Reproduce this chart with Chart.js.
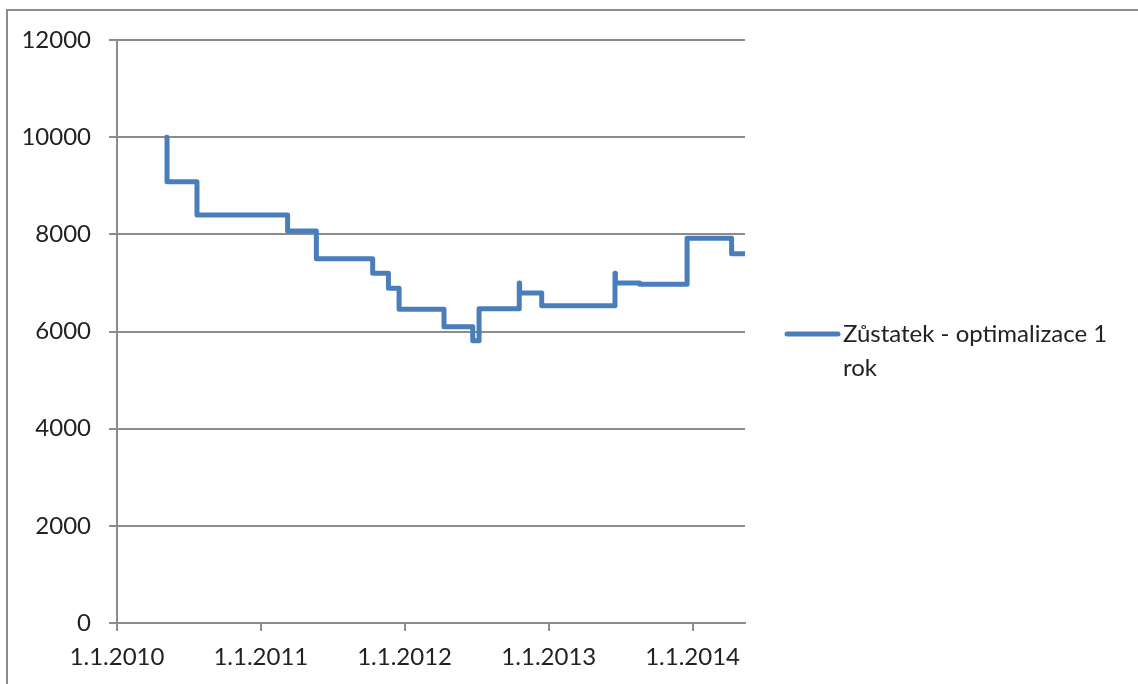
<!DOCTYPE html>
<html>
<head>
<meta charset="utf-8">
<script src="https://cdn.jsdelivr.net/npm/chart.js@4.4.1/dist/chart.umd.min.js"></script>
<style>
  html, body { margin: 0; padding: 0; background: #fff; }
  #wrap { position: relative; width: 1138px; height: 684px; }
  #frame { position: absolute; left: 6px; top: 9px; right: 0; bottom: 0;
           border-top: 2px solid #8c8c8c; border-left: 2px solid #8c8c8c; }
  canvas { position: absolute; left: 0; top: 0; }
</style>
</head>
<body>
<div id="wrap">
  <div id="frame"></div>
  <canvas id="chart" width="1138" height="684"></canvas>
</div>
<script>
// change dates and the balance from that day on
const changeDates = ['2010-05-07', '2010-05-08', '2010-07-23', '2011-03-10', '2011-05-22',
  '2011-10-12', '2011-11-21', '2011-12-18', '2012-04-10', '2012-06-22', '2012-07-08',
  '2012-10-18', '2012-10-19', '2012-12-14', '2013-06-18', '2013-06-19', '2013-08-20',
  '2013-12-18', '2014-04-10', '2014-05-13'];
const balance = [10000, 9080, 8400, 8070, 7500,
  7200, 6890, 6460, 6100, 5810, 6470,
  7000, 6790, 6530, 7200, 7000, 6970,
  7920, 7600, 7600];
const yearTicks = [2010, 2011, 2012, 2013, 2014];
const axisEnd = '2014-05-14';
const seriesLabel = ['Zůstatek - optimalizace 1', 'rok'];

const DAY = 86400000;
const origin = Date.UTC(2010, 0, 1);
function dayOf(s) {
  const p = s.split('-');
  return (Date.UTC(+p[0], +p[1] - 1, +p[2]) - origin) / DAY;
}
function dayOfYear(y) {
  return (Date.UTC(y, 0, 1) - origin) / DAY;
}

const points = changeDates.map((d, i) => ({ x: dayOf(d), y: balance[i] }));
const blue = '#4a7ebb';
const gray = '#8c8c8c';
const font = { family: 'Lato', size: 24 };

const legendPlugin = {
  id: 'sideLegend',
  afterDraw(chart) {
    const ctx = chart.ctx;
    ctx.save();
    ctx.strokeStyle = blue;
    ctx.lineWidth = 5;
    ctx.lineCap = 'round';
    ctx.beginPath();
    ctx.moveTo(787, 334);
    ctx.lineTo(838, 334);
    ctx.stroke();
    ctx.fillStyle = '#222';
    ctx.font = '24px Lato';
    ctx.textBaseline = 'middle';
    ctx.fillText(seriesLabel[0], 843, 334);
    ctx.fillText(seriesLabel[1], 843, 368);
    ctx.restore();
  }
};

new Chart(document.getElementById('chart'), {
  type: 'line',
  data: {
    datasets: [{
      data: points,
      stepped: 'before',
      borderColor: blue,
      borderWidth: 5,
      borderCapStyle: 'round',
      borderJoinStyle: 'round',
      pointRadius: 0,
      fill: false
    }]
  },
  options: {
    responsive: false,
    animation: false,
    layout: { padding: { left: 0, right: 393, top: 40, bottom: 0 } },
    plugins: { legend: { display: false }, tooltip: { enabled: false } },
    scales: {
      x: {
        type: 'linear',
        min: 0,
        max: dayOf(axisEnd),
        afterBuildTicks(scale) {
          scale.ticks = yearTicks.map(y => ({ value: dayOfYear(y) }));
        },
        afterFit(scale) { scale.height = 61; },
        ticks: {
          autoSkip: false,
          maxRotation: 0,
          color: '#222',
          font: font,
          padding: 12,
          callback: (v) => '1.1.' + yearTicks[yearTicks.findIndex(y => dayOfYear(y) === v)]
        },
        grid: { drawOnChartArea: false, color: gray, lineWidth: 2, tickLength: 8 },
        border: { color: gray, width: 2 }
      },
      y: {
        min: 0,
        max: 12000,
        afterFit(scale) { scale.width = 117; },
        ticks: { stepSize: 2000, color: '#222', font: font, padding: 18, callback: (v) => String(v) },
        grid: { color: gray, lineWidth: 2, tickLength: 8 },
        border: { color: gray, width: 2 }
      }
    }
  },
  plugins: [legendPlugin]
});
</script>
</body>
</html>
